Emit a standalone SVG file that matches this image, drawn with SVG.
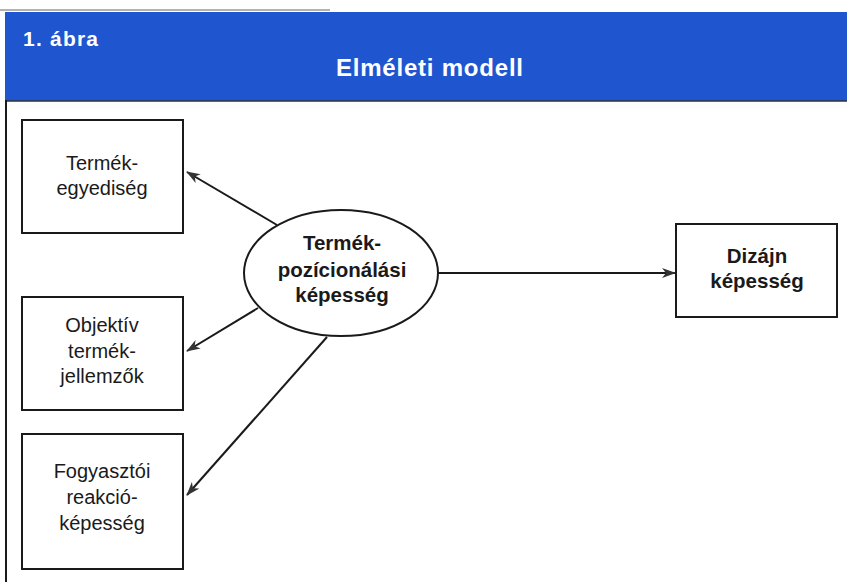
<svg xmlns="http://www.w3.org/2000/svg" width="847" height="582" viewBox="0 0 847 582">
<style>
.box{fill:#fff;stroke:#1a1a1a;stroke-width:2}
.t{font-family:"Liberation Sans",Arial,sans-serif;font-size:20px;fill:#1a1a1a;text-anchor:middle}
.b{font-weight:bold;font-size:20.5px}
.edge{stroke:#1a1a1a;stroke-width:2;fill:none;marker-end:url(#ah)}
.hd{font-family:"Liberation Sans",Arial,sans-serif;font-weight:bold;fill:#fff}
</style>
<defs>
<marker id="ah" viewBox="0 0 14 10" refX="13" refY="5" markerWidth="14" markerHeight="10" markerUnits="userSpaceOnUse" orient="auto">
<path d="M0,0 L14,5 L0,10 L4,5 Z" fill="#333"/>
</marker>
</defs>
<rect width="847" height="582" fill="#fff"/>
<line x1="0" y1="10" x2="330" y2="10" stroke="#999" stroke-width="1.5"/>
<g id="header">
<rect x="5" y="12" width="842" height="89" fill="#1f55cf"/>
<line x1="5" y1="101" x2="847" y2="101" stroke="#333" stroke-width="1.5"/>
<text class="hd" x="23" y="46" font-size="21" textLength="75">1. ábra</text>
<text class="hd" x="336" y="76" font-size="24" textLength="187">Elméleti modell</text>
</g>
<line x1="6" y1="100" x2="6" y2="582" stroke="#1a1a1a" stroke-width="2"/>
<g id="connectors">
<line class="edge" x1="277" y1="225" x2="187" y2="172"/>
<line class="edge" x1="258" y1="308" x2="187" y2="351"/>
<line class="edge" x1="327" y1="337" x2="187" y2="495"/>
<line class="edge" x1="438" y1="273" x2="675" y2="273"/>
</g>
<g id="n1">
<rect class="box" x="22" y="120" width="161" height="113"/>
<text class="t" x="102" y="170">Termék-</text>
<text class="t" x="102" y="195">egyediség</text>
</g>
<g id="n2">
<rect class="box" x="22" y="297" width="161" height="113"/>
<text class="t" x="102" y="332">Objektív</text>
<text class="t" x="102" y="358">termék-</text>
<text class="t" x="102" y="383">jellemzők</text>
</g>
<g id="n3">
<rect class="box" x="22" y="434" width="161" height="135"/>
<text class="t" x="102" y="478">Fogyasztói</text>
<text class="t" x="102" y="504">reakció-</text>
<text class="t" x="102" y="530">képesség</text>
</g>
<g id="center">
<ellipse class="box" cx="341" cy="273" rx="97" ry="63"/>
<text class="t b" x="342" y="250">Termék-</text>
<text class="t b" x="342" y="277">pozícionálási</text>
<text class="t b" x="342" y="302">képesség</text>
</g>
<g id="design">
<rect class="box" x="676" y="224" width="161" height="93"/>
<text class="t b" x="757" y="263" font-size="21">Dizájn</text>
<text class="t b" x="757" y="288" font-size="21">képesség</text>
</g>
</svg>
